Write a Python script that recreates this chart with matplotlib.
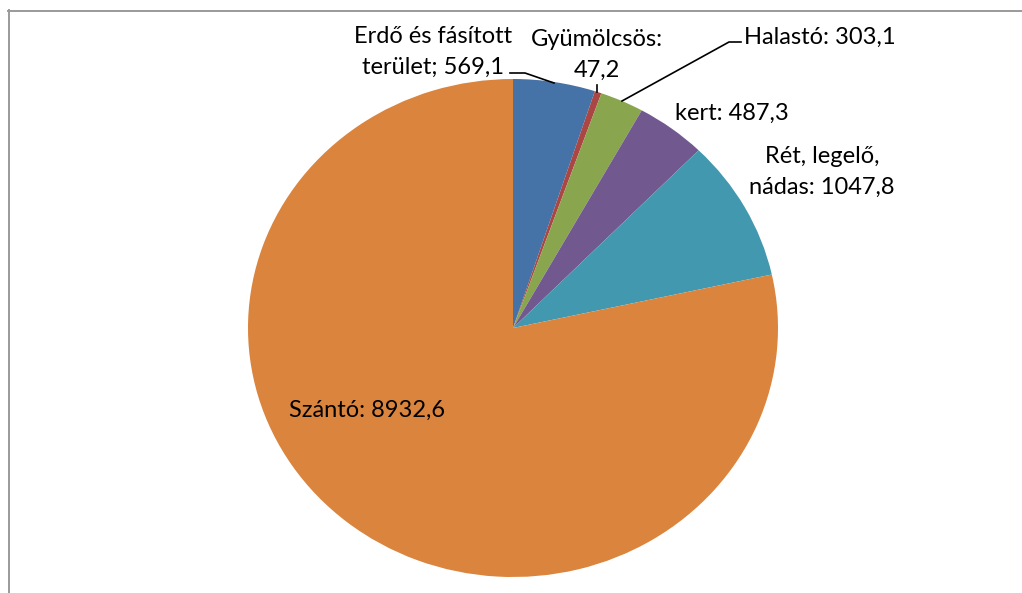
import matplotlib
matplotlib.use("Agg")
import matplotlib.pyplot as plt
from matplotlib.lines import Line2D

plt.rcParams['font.family'] = ['Lato', 'DejaVu Sans']

categories = ["Erdő és fásított\nterület", "Gyümölcsös", "Halastó", "kert",
              "Rét, legelő,\nnádas", "Szántó"]
values = [569.1, 47.2, 303.1, 487.3, 1047.8, 8932.6]
value_labels = ["569,1", "47,2", "303,1", "487,3", "1047,8", "8932,6"]
colors = ["#4572A7", "#AA4643", "#89A54E", "#71588F", "#4198AF", "#DB843D"]

W, H = 1022, 593
CX, CY, RX, RY = 513, 328, 265, 249


def d(px, py):
    """Pixel position -> data coordinates of the pie axes."""
    return (px - CX) / RX, (CY - py) / RY


fig = plt.figure(figsize=(W / 100, H / 100), dpi=100)
ax = fig.add_axes([0, 0, 1, 1])
ax.pie(values, colors=colors, startangle=90, counterclock=False,
       radius=1, wedgeprops=dict(linewidth=0))
ax.set_aspect('auto')
x0, y0 = d(0, H)
x1, y1 = d(W, 0)
ax.set_xlim(x0, x1)
ax.set_ylim(y0, y1)
ax.axis('off')

# chart frame (left and top edges)
fig.add_artist(Line2D([8.5 / W, 8.5 / W], [0, 1 - 10 / H], color="#9a9a9a",
                      lw=1.4, transform=fig.transFigure))
fig.add_artist(Line2D([8 / W, 1], [1 - 10.5 / H, 1 - 10.5 / H], color="#9a9a9a",
                      lw=1.4, transform=fig.transFigure))

fs = 17
tk = dict(fontsize=fs, color="black", ha="center", va="center",
          linespacing=1.55)

lab = [f"{c}; {v}" if i == 0 else f"{c}: {v}" for i, (c, v) in
       enumerate(zip(categories, value_labels))]
lab[1] = f"{categories[1]}:\n{value_labels[1]}"

positions = [(433, 52), (597, 55), (820, 37), (732, 113), (822, 172), (367, 410)]
for text, (px, py) in zip(lab, positions):
    ax.text(*d(px, py), text, **tk)

# leader lines
leaders = [
    [(510, 73), (525, 73), (554, 83)],
    [(597, 85), (597, 92)],
    [(741, 42), (729, 42), (622, 101)],
]
for pts in leaders:
    xs, ys = zip(*[d(px, py) for px, py in pts])
    ax.plot(xs, ys, color="black", lw=1.2)

fig.savefig("out.png", dpi=100)
